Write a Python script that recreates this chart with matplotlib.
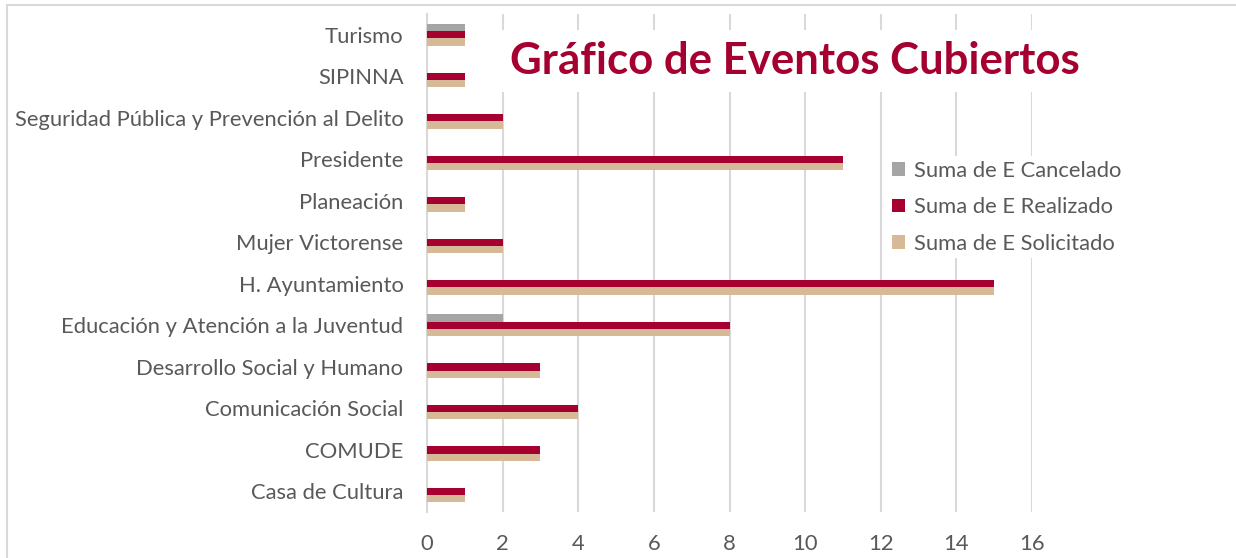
import matplotlib.pyplot as plt
import numpy as np
from matplotlib.patches import Rectangle

plt.rcParams['font.family'] = ['Lato', 'DejaVu Sans']

# Categories listed bottom to top
categorias = ["Casa de Cultura", "COMUDE", "Comunicación Social", "Desarrollo Social y Humano",
              "Educación y Atención a la Juventud", "H. Ayuntamiento", "Mujer Victorense",
              "Planeación", "Presidente", "Seguridad Pública y Prevención al Delito",
              "SIPINNA", "Turismo"]
cancelado = [0, 0, 0, 0, 2, 0, 0, 0, 0, 0, 0, 1]
realizado = [1, 3, 4, 3, 8, 15, 2, 1, 11, 2, 1, 1]
solicitado = [1, 3, 4, 3, 8, 15, 2, 1, 11, 2, 1, 1]
series_names = ["Suma de E Cancelado", "Suma de E Realizado", "Suma de E Solicitado"]
colores = ["#A5A5A5", "#A50030", "#D6B996"]
xticks = [0, 2, 4, 6, 8, 10, 12, 14, 16]

fig = plt.figure(figsize=(12.36, 5.58), dpi=100)
ax = fig.add_axes([0.3455, 0.0824, 0.4895, 0.8925])

# light chart frame
fig.patches.append(Rectangle((0.0057, -0.05), 1.2, 1.041, transform=fig.transFigure,
                             fill=False, edgecolor="#D9D9D9", linewidth=1.5))

y = np.arange(len(categorias))
h = 0.18
for i, (vals, name, col) in enumerate(zip([cancelado, realizado, solicitado], series_names, colores)):
    ax.barh(y + (1 - i) * h, vals, height=h, color=col, label=name, zorder=3)

ax.set_xlim(0, 16)
ax.set_ylim(-0.5, len(categorias) - 0.5)
ax.set_xticks(xticks)
ax.set_yticks(y)
ax.set_yticklabels(categorias)
ax.tick_params(axis='both', length=0, labelsize=15.8, labelcolor="#595959")
ax.tick_params(axis='y', pad=17)
ax.tick_params(axis='x', pad=16)
ax.grid(axis='x', color="#D9D9D9", linewidth=1.5, zorder=0)
for s in ["top", "right", "bottom"]:
    ax.spines[s].set_visible(False)
ax.spines["left"].set_color("#D9D9D9")
ax.spines["left"].set_linewidth(1.5)

ax.text(0.608, 0.905, "Gráfico de Eventos Cubiertos", transform=ax.transAxes,
        ha='center', va='center', fontsize=31.5, fontweight='bold', color="#A50030",
        bbox=dict(facecolor='white', edgecolor='none', pad=8), zorder=5)

leg = ax.legend(loc='center left', bbox_to_anchor=(0.761, 0.612), frameon=True,
                fontsize=15.8, handlelength=0.6, handleheight=0.6, handletextpad=0.4,
                labelspacing=0.75, borderaxespad=0, borderpad=0.2)
leg.get_frame().set_edgecolor('none')
leg.get_frame().set_facecolor('white')
leg.get_frame().set_alpha(1)
for t in leg.get_texts():
    t.set_color("#595959")

fig.savefig("out.png", dpi=100)
